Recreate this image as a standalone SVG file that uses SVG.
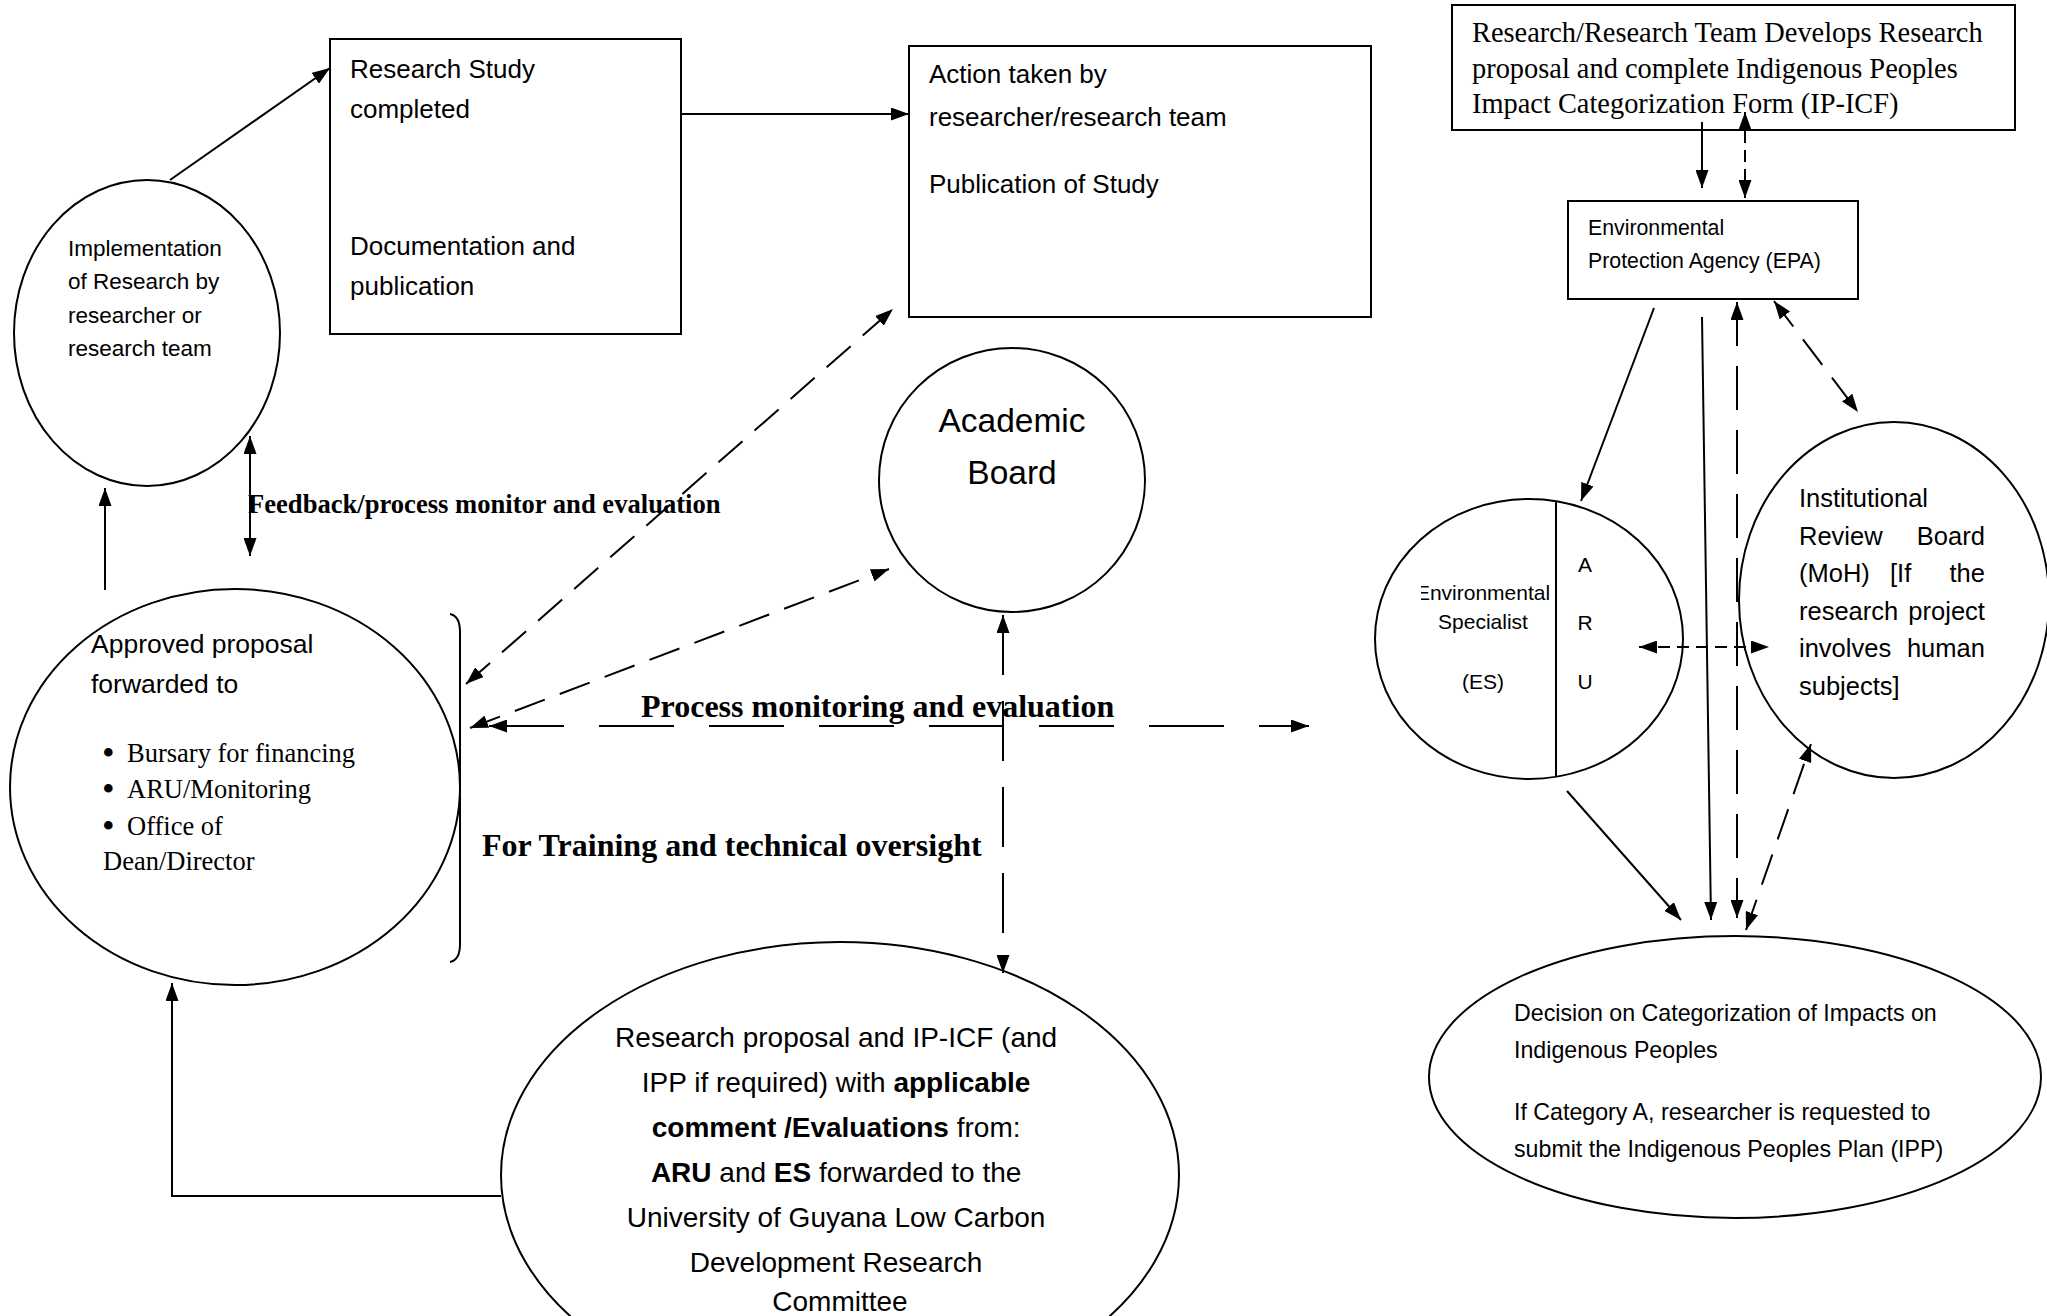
<svg xmlns="http://www.w3.org/2000/svg" width="2047" height="1316" viewBox="0 0 2047 1316">
<style>
.sh{fill:#fff;stroke:#000;stroke-width:2}
.sans{font-family:"Liberation Sans",Arial,sans-serif;fill:#000}
.serif{font-family:"Liberation Serif","Times New Roman",serif;fill:#000}
.b{font-weight:bold}
.c{fill:none;stroke:#000;stroke-width:2}
.d1{stroke-dasharray:32 16}
.d2{stroke-dasharray:75 35}
.d3{stroke-dasharray:60 26}
.d4{stroke-dasharray:44 20}
.d5{stroke-dasharray:12 7}
</style>
<defs>
<marker id="ah" viewBox="0 0 18 13" refX="18" refY="6.5" markerWidth="18" markerHeight="13" markerUnits="userSpaceOnUse" orient="auto-start-reverse"><path d="M0,0 L18,6.5 L0,13 z" fill="#000"/></marker>
<clipPath id="esclip"><rect x="1421" y="570" width="140" height="140"/></clipPath>
</defs>
<rect width="2047" height="1316" fill="#fff"/>

<g id="implementation">
<ellipse class="sh" cx="147" cy="333" rx="133" ry="153"/>
<text class="sans" font-size="22.5"><tspan x="68" y="256">Implementation</tspan><tspan x="68" y="289">of Research by</tspan><tspan x="68" y="323">researcher or</tspan><tspan x="68" y="356">research team</tspan></text>
</g>

<g id="study-completed">
<rect class="sh" x="330" y="39" width="351" height="295"/>
<text class="sans" font-size="26"><tspan x="350" y="78">Research Study</tspan><tspan x="350" y="118">completed</tspan><tspan x="350" y="255">Documentation and</tspan><tspan x="350" y="295">publication</tspan></text>
</g>

<g id="action-taken">
<rect class="sh" x="909" y="46" width="462" height="271"/>
<text class="sans" font-size="26"><tspan x="929" y="83">Action taken by</tspan><tspan x="929" y="126">researcher/research team</tspan><tspan x="929" y="193">Publication of Study</tspan></text>
</g>

<g id="academic-board">
<ellipse class="sh" cx="1012" cy="480" rx="133" ry="132"/>
<text class="sans" font-size="33.5" text-anchor="middle"><tspan x="1012" y="432">Academic</tspan><tspan x="1012" y="484">Board</tspan></text>
</g>

<g id="approved-proposal">
<ellipse class="sh" cx="235" cy="787" rx="225" ry="198"/>
<text class="sans" font-size="26.5"><tspan x="91" y="653">Approved proposal</tspan><tspan x="91" y="693">forwarded to</tspan></text>
<text class="serif" font-size="36"><tspan x="102" y="765">•</tspan><tspan x="102" y="801">•</tspan><tspan x="102" y="838">•</tspan></text>
<text class="serif" font-size="26.5"><tspan x="127" y="762">Bursary for financing</tspan><tspan x="127" y="798">ARU/Monitoring</tspan><tspan x="127" y="835">Office of</tspan><tspan x="103" y="870">Dean/Director</tspan></text>
<path class="c" d="M450,614 Q460,616 460,632 L460,944 Q460,960 450,962"/>
</g>

<g id="committee">
<ellipse class="sh" cx="840" cy="1175" rx="339" ry="233"/>
<text class="sans" font-size="28" text-anchor="middle">
<tspan x="840" y="1047">Research proposal and IP-ICF (and</tspan>
<tspan x="840" y="1092">IPP if required) with <tspan class="b">applicable</tspan></tspan>
<tspan x="840" y="1137"><tspan class="b">comment /Evaluations</tspan> from:</tspan>
<tspan x="840" y="1182"><tspan class="b">ARU</tspan> and <tspan class="b">ES</tspan> forwarded to the</tspan>
<tspan x="840" y="1227">University of Guyana Low Carbon</tspan>
<tspan x="840" y="1272">Development Research</tspan>
<tspan x="840" y="1311">Committee</tspan>
</text>
</g>

<g id="develops-proposal">
<rect class="sh" x="1452" y="5" width="563" height="125"/>
<text class="serif" font-size="28.4"><tspan x="1472" y="42">Research/Research Team Develops Research</tspan><tspan x="1472" y="78">proposal and complete Indigenous Peoples</tspan><tspan x="1472" y="113">Impact Categorization Form (IP-ICF)</tspan></text>
</g>

<g id="epa">
<rect class="sh" x="1568" y="201" width="290" height="98"/>
<text class="sans" font-size="21.3"><tspan x="1588" y="235">Environmental</tspan><tspan x="1588" y="268">Protection Agency (EPA)</tspan></text>
</g>

<g id="es-aru">
<ellipse class="sh" cx="1529" cy="639" rx="154" ry="140"/>
<line class="c" x1="1556" y1="501" x2="1556" y2="777"/>
<text class="sans" font-size="21" text-anchor="middle" clip-path="url(#esclip)"><tspan x="1483" y="600">Environmental</tspan><tspan x="1483" y="629">Specialist</tspan><tspan x="1483" y="689">(ES)</tspan></text>
<text class="sans" font-size="21" text-anchor="middle"><tspan x="1585" y="572">A</tspan><tspan x="1585" y="630">R</tspan><tspan x="1585" y="689">U</tspan></text>
</g>

<g id="irb">
<ellipse class="sh" cx="1894" cy="600" rx="155" ry="178"/>
<text class="sans" font-size="25.5">
<tspan x="1799" y="507">Institutional</tspan>
<tspan x="1799" y="545">Review</tspan><tspan x="1992" y="545" text-anchor="end">Board</tspan>
<tspan x="1799" y="582">(MoH)</tspan><tspan x="1890" y="582">[If</tspan><tspan x="1992" y="582" text-anchor="end">the</tspan>
<tspan x="1799" y="620">research</tspan><tspan x="1992" y="620" text-anchor="end">project</tspan>
<tspan x="1799" y="657">involves</tspan><tspan x="1992" y="657" text-anchor="end">human</tspan>
<tspan x="1799" y="695">subjects]</tspan>
</text>
</g>

<g id="decision">
<ellipse class="sh" cx="1735" cy="1077" rx="306" ry="141"/>
<text class="sans" font-size="23.2"><tspan x="1514" y="1021">Decision on Categorization of Impacts on</tspan><tspan x="1514" y="1058">Indigenous Peoples</tspan><tspan x="1514" y="1120">If Category A, researcher is requested to</tspan><tspan x="1514" y="1157">submit the Indigenous Peoples Plan (IPP)</tspan></text>
</g>

<g id="labels">
<text class="serif b" font-size="26.6" x="248" y="513">Feedback/process monitor and evaluation</text>
<text class="serif b" font-size="32" x="641" y="717">Process monitoring and evaluation</text>
<text class="serif b" font-size="32" x="482" y="856">For Training and technical oversight</text>
</g>

<g id="connectors">
<path class="c" d="M170,180 L330,68" marker-end="url(#ah)"/>
<path class="c" d="M681,114 L909,114" marker-end="url(#ah)"/>
<path class="c" d="M105,590 L105,488" marker-end="url(#ah)"/>
<path class="c" d="M250,556 L250,436" marker-start="url(#ah)" marker-end="url(#ah)"/>
<path class="c" d="M501,1196 L172,1196 L172,983" marker-end="url(#ah)"/>
<path class="c d1" d="M466,684 L893,309" marker-start="url(#ah)" marker-end="url(#ah)"/>
<path class="c d1" d="M470,728 L889,569" marker-start="url(#ah)" marker-end="url(#ah)"/>
<path class="c d2" d="M489,726 L1309,726" marker-start="url(#ah)" marker-end="url(#ah)"/>
<path class="c d3" d="M1003,615 L1003,973" marker-start="url(#ah)" marker-end="url(#ah)"/>
<path class="c" d="M1702,122 L1702,188" marker-end="url(#ah)"/>
<path class="c d5" d="M1745,112 L1745,198" marker-start="url(#ah)" marker-end="url(#ah)"/>
<path class="c" d="M1654,308 L1581,501" marker-end="url(#ah)"/>
<path class="c" d="M1702,317 L1711,920" marker-end="url(#ah)"/>
<path class="c d4" d="M1737,302 L1737,918" marker-start="url(#ah)" marker-end="url(#ah)"/>
<path class="c d1" d="M1774,301 L1858,412" marker-start="url(#ah)" marker-end="url(#ah)"/>
<path class="c d5" d="M1639,647 L1769,647" marker-start="url(#ah)" marker-end="url(#ah)"/>
<path class="c" d="M1567,791 L1681,920" marker-end="url(#ah)"/>
<path class="c d1" d="M1746,930 L1811,744" marker-start="url(#ah)" marker-end="url(#ah)"/>
</g>
</svg>
